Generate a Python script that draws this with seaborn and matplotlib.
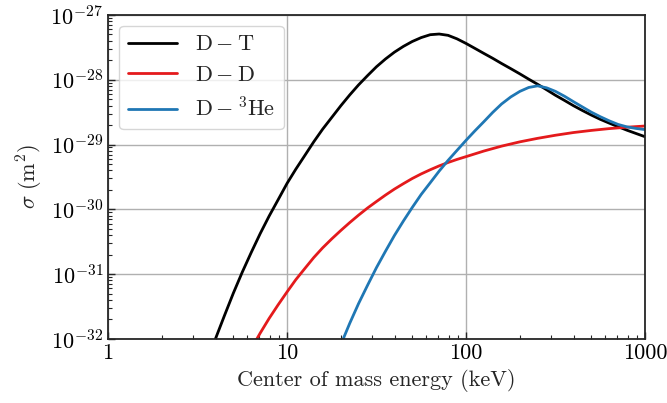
import pandas as pd
import seaborn as sns
import matplotlib.pyplot as plt
from matplotlib.ticker import NullFormatter

# fusion cross sections (keV, m^2)
dt_energy = [3.98, 4.47, 5.01, 5.62, 6.31, 7.08, 7.94, 8.91, 10, 11.2, 12.6, 14.1, 15.8, 17.8,
             20, 22.4, 25.1, 28.2, 31.6, 35.5, 39.8, 44.7, 50.1, 56.2, 63.1, 70.8, 79.4,
             89.1, 100, 112, 126, 141, 158, 178, 200, 224, 251, 282, 316, 355, 398, 447,
             501, 562, 631, 708, 794, 891, 1000]
dt_sigma = [1.0e-32, 2.29e-32, 5.07e-32, 1.07e-31, 2.16e-31, 4.22e-31, 7.85e-31, 1.40e-30,
            2.51e-30, 4.17e-30, 6.84e-30, 1.10e-29, 1.72e-29, 2.63e-29, 3.98e-29, 5.82e-29,
            8.32e-29, 1.16e-28, 1.585e-28, 2.09e-28, 2.66e-28, 3.27e-28, 3.89e-28, 4.47e-28,
            4.95e-28, 5.07e-28, 4.84e-28, 4.27e-28, 3.63e-28, 3.05e-28, 2.54e-28, 2.14e-28,
            1.78e-28, 1.48e-28, 1.23e-28, 1.02e-28, 8.51e-29, 7.0e-29, 5.75e-29, 4.79e-29,
            3.98e-29, 3.35e-29, 2.85e-29, 2.45e-29, 2.14e-29, 1.88e-29, 1.66e-29, 1.48e-29,
            1.32e-29]

dd_energy = [6.31, 7.08, 7.94, 8.91, 10, 11.2, 12.6, 14.1, 15.8, 17.8, 20, 22.4, 25.1, 28.2,
             31.6, 35.5, 39.8, 44.7, 50.1, 56.2, 63.1, 70.8, 79.4, 89.1, 100, 126, 158,
             200, 251, 316, 398, 501, 631, 794, 1000]
dd_sigma = [7.08e-33, 1.23e-32, 2.07e-32, 3.35e-32, 5.31e-32, 8.22e-32, 1.23e-31, 1.80e-31,
            2.54e-31, 3.51e-31, 4.73e-31, 6.24e-31, 8.13e-31, 1.05e-30, 1.32e-30, 1.66e-30,
            2.05e-30, 2.49e-30, 2.99e-30, 3.52e-30, 4.08e-30, 4.68e-30, 5.28e-30, 5.89e-30,
            6.5e-30, 7.94e-30, 9.44e-30, 1.10e-29, 1.245e-29, 1.39e-29, 1.53e-29, 1.65e-29,
            1.76e-29, 1.85e-29, 1.93e-29]

dhe_energy = [20, 22.4, 25.1, 28.2, 31.6, 35.5, 39.8, 44.7, 50.1, 56.2, 63.1, 70.8, 79.4,
              89.1, 100, 112, 126, 141, 158, 178, 200, 224, 251, 282, 316, 355, 398, 447,
              501, 562, 631, 708, 794, 891, 1000]
dhe_sigma = [8.22e-33, 1.74e-32, 3.51e-32, 6.76e-32, 1.26e-31, 2.26e-31, 3.94e-31, 6.61e-31,
             1.07e-30, 1.70e-30, 2.57e-30, 3.89e-30, 5.69e-30, 8.13e-30, 1.16e-29, 1.62e-29,
             2.26e-29, 3.13e-29, 4.22e-29, 5.43e-29, 6.61e-29, 7.59e-29, 8.04e-29, 7.50e-29,
             6.61e-29, 5.56e-29, 4.59e-29, 3.80e-29, 3.16e-29, 2.69e-29, 2.32e-29, 2.04e-29,
             1.87e-29, 1.77e-29, 1.70e-29]

labels = [r'$\mathrm{D-T}$', r'$\mathrm{D-D}$', r'$\mathrm{D-{}^3He}$']
colors = ['black', '#e41a1c', '#1f77b4']
x_ticks = [1, 10, 100, 1000]
x_ticklabels = ['1', '10', '100', '1000']

df = pd.concat([
    pd.DataFrame({'energy': dt_energy, 'sigma': dt_sigma, 'reaction': labels[0]}),
    pd.DataFrame({'energy': dd_energy, 'sigma': dd_sigma, 'reaction': labels[1]}),
    pd.DataFrame({'energy': dhe_energy, 'sigma': dhe_sigma, 'reaction': labels[2]}),
])

sns.set_style('white')
plt.rcParams['font.family'] = 'serif'
plt.rcParams['font.serif'] = ['cmr10', 'DejaVu Serif']
plt.rcParams['mathtext.fontset'] = 'cm'
plt.rcParams['axes.formatter.use_mathtext'] = True
plt.rcParams['font.size'] = 16

fig = plt.figure(figsize=(6.67, 4.03), dpi=100)
ax = fig.add_axes([0.162, 0.159, 0.805, 0.804])
ax.set_xscale('log')
ax.set_yscale('log')

sns.lineplot(data=df, x='energy', y='sigma', hue='reaction', hue_order=labels,
             palette=colors, linewidth=2, estimator=None, sort=True, ax=ax)

ax.set_xlim(1, 1000)
ax.set_ylim(1e-32, 1e-27)
ax.set_xticks(x_ticks, x_ticklabels)
ax.xaxis.set_minor_formatter(NullFormatter())
ax.yaxis.set_minor_formatter(NullFormatter())
ax.grid(True, which='major', color='#b0b0b0', linewidth=1)
ax.tick_params(which='both', direction='in', bottom=True, left=True, top=False, right=False,
               labelsize=16, colors='#262626', labelcolor='black')
ax.tick_params(which='major', length=5, width=1)
ax.tick_params(which='minor', length=3, width=0.8)
for s in ax.spines.values():
    s.set_color('#262626')
    s.set_linewidth(1.3)

ax.set_xlabel('Center of mass energy (keV)', fontsize=16)
ax.set_ylabel(r'$\sigma\ (\mathrm{m}^2)$', fontsize=16)

handles, labs = ax.get_legend_handles_labels()
ax.legend(handles, labs, loc='upper left', fontsize=16, handlelength=2.2,
          handletextpad=0.8, framealpha=0.8, edgecolor='#cccccc', fancybox=True)

fig.savefig('out.png', dpi=100)
